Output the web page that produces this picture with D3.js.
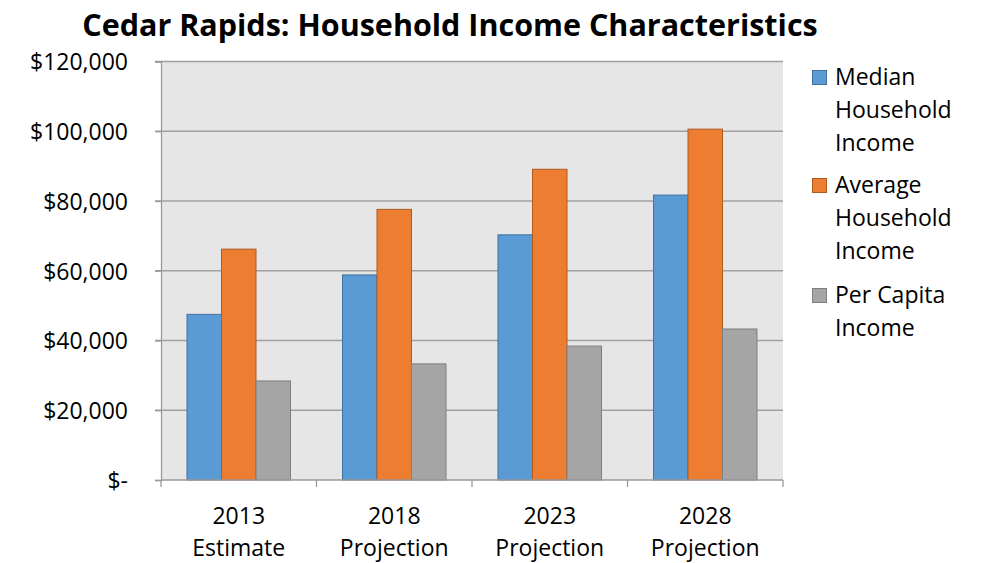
<!DOCTYPE html>
<html><head><meta charset="utf-8">
<script src="https://cdn.jsdelivr.net/npm/d3@7"></script>
<style>body{margin:0;background:#fff}svg{display:block}text{font-family:"Open Sans",sans-serif}</style>
</head><body><svg id="c" width="987" height="563"></svg>
<script>
const categories = [["2013","Estimate"],["2018","Projection"],["2023","Projection"],["2028","Projection"]];
const seriesNames = [["Median","Household","Income"],["Average","Household","Income"],["Per Capita","Income"]];
const median = [47500, 58800, 70300, 81700];
const average = [66200, 77600, 89100, 100600];
const perCapita = [28400, 33300, 38400, 43300];
const yTicks = [0, 20000, 40000, 60000, 80000, 100000, 120000];
const title = "Cedar Rapids: Household Income Characteristics";

const series = [median, average, perCapita];
const fills = ["#5B9BD5", "#ED7D31", "#A5A5A5"];
const strokes = ["#41719C", "#AE5A21", "#7F7F7F"];
const FS = 23;

const svg = d3.select("#c");
const L = 161, R = 783, T = 61.5, B = 480;
const x0 = d3.scaleBand().domain(d3.range(categories.length)).range([L, R]).paddingInner(0).paddingOuter(0);
const x1 = d3.scaleBand().domain(d3.range(series.length)).range([26, x0.bandwidth() - 26]);
const y = d3.scaleLinear().domain([0, 120000]).range([B, T]);

svg.append("rect").attr("x", L).attr("y", T).attr("width", R - L).attr("height", B - T).attr("fill", "#E6E6E6");

// gridlines
svg.append("g").selectAll("line").data(yTicks.filter(d => d > 0)).join("line")
  .attr("x1", L - 6).attr("x2", R).attr("y1", d => y(d)).attr("y2", d => y(d))
  .attr("stroke", "#A0A0A0").attr("stroke-width", 1.3);

// y axis
const yAxis = d3.axisLeft(y).tickValues(yTicks).tickSize(6).tickPadding(27)
  .tickFormat(d => d === 0 ? "$-" : "$" + d3.format(",")(d));
const gy = svg.append("g").attr("transform", `translate(${L},0)`).call(yAxis);
gy.attr("font-size", FS).attr("font-family", "Open Sans");
gy.select(".domain").attr("stroke", "#9A9A9A").attr("stroke-width", 1.3);
gy.selectAll(".tick line").attr("stroke", "#9A9A9A").attr("stroke-width", 1.3);
gy.selectAll(".tick text").attr("fill", "#000").attr("dy", "0.36em");

// bars
const g = svg.append("g");
categories.forEach((c, i) => {
  series.forEach((s, j) => {
    g.append("rect")
      .attr("x", x0(i) + x1(j)).attr("width", x1.bandwidth())
      .attr("y", y(s[i])).attr("height", y(0) - y(s[i]))
      .attr("fill", fills[j]).attr("stroke", strokes[j]).attr("stroke-width", 1);
  });
});

// x axis
const gx = svg.append("g").attr("transform", `translate(0,${B})`);
gx.append("line").attr("x1", L).attr("x2", R).attr("y1", 0).attr("y2", 0).attr("stroke", "#9A9A9A").attr("stroke-width", 1.3);
gx.selectAll("line.tk").data(d3.range(categories.length + 1)).join("line").attr("class", "tk")
  .attr("x1", d => L + d * x0.bandwidth()).attr("x2", d => L + d * x0.bandwidth())
  .attr("y1", 0).attr("y2", 7).attr("stroke", "#9A9A9A").attr("stroke-width", 1.3);
categories.forEach((c, i) => {
  const t = gx.append("text").attr("text-anchor", "middle").attr("font-size", FS).attr("fill", "#000")
    .attr("x", x0(i) + x0.bandwidth() / 2);
  c.forEach((line, k) => t.append("tspan").attr("x", x0(i) + x0.bandwidth() / 2).attr("y", 44 + k * 32).text(line));
});

// title
svg.append("text").attr("x", 450).attr("y", 36).attr("text-anchor", "middle")
  .attr("font-size", 30.5).attr("font-weight", "bold").attr("fill", "#000").text(title);

// legend
const legY = [70, 178, 288];
seriesNames.forEach((names, j) => {
  svg.append("rect").attr("x", 812.5).attr("y", legY[j] + 0.5).attr("width", 14).attr("height", 14)
    .attr("fill", fills[j]).attr("stroke", strokes[j]).attr("stroke-width", 1);
  const t = svg.append("text").attr("font-size", FS).attr("fill", "#000");
  names.forEach((n, k) => t.append("tspan").attr("x", 835).attr("y", legY[j] + 15 + k * 33).text(n));
});
</script></body></html>
